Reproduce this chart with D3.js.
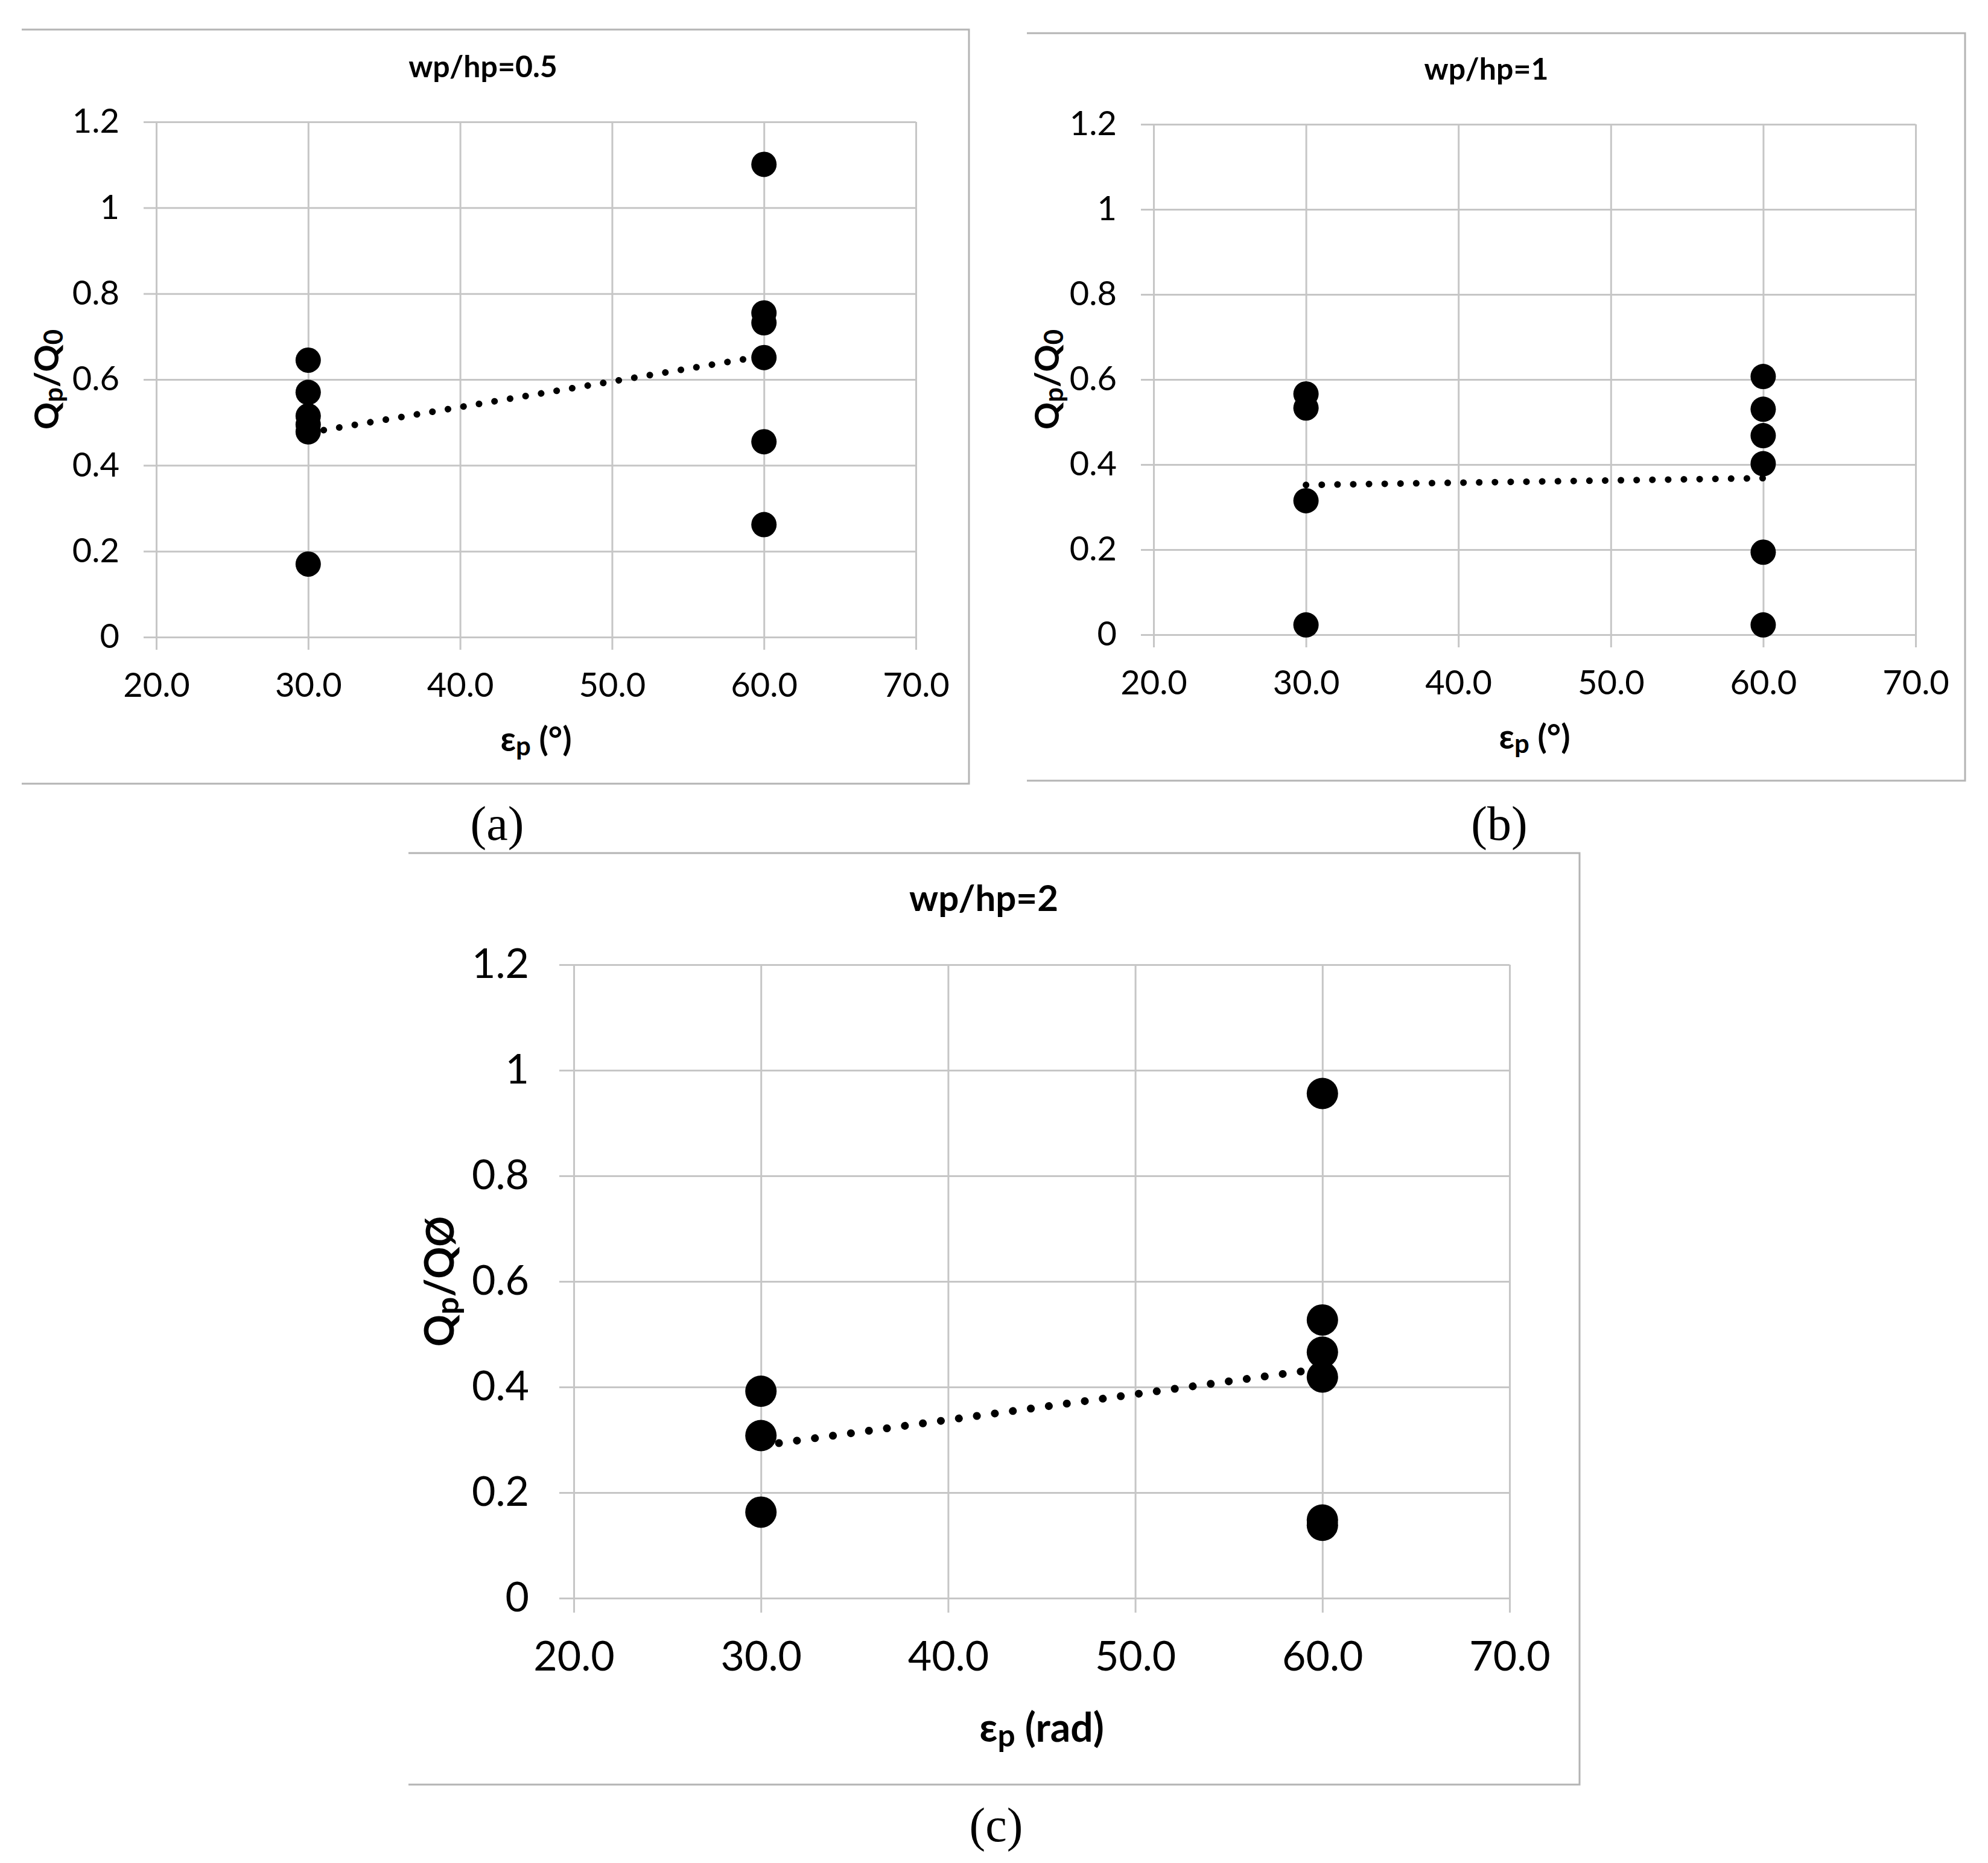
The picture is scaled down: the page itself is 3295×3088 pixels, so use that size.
<!DOCTYPE html>
<html>
<head>
<meta charset="utf-8">
<script src="https://cdn.jsdelivr.net/npm/d3@7"></script>
<style>
  body { margin: 0; background: #fff; }
  svg { display: block; }
</style>
</head>
<body>
<div id="chart"></div>
<script>
// axis ticks shared by all three panels
const xTicks = [20, 30, 40, 50, 60, 70];
const xTickLabels = ["20.0", "30.0", "40.0", "50.0", "60.0", "70.0"];
const yTicks = [0, 0.2, 0.4, 0.6, 0.8, 1, 1.2];
const yTickLabels = ["0", "0.2", "0.4", "0.6", "0.8", "1", "1.2"];

const panelTitles = ["wp/hp=0.5", "wp/hp=1", "wp/hp=2"];
const captions = ["(a)", "(b)", "(c)"];

// (a) wp/hp = 0.5
const aX = [30, 30, 30, 30, 30, 30, 60, 60, 60, 60, 60, 60];
const aY = [0.645, 0.57, 0.515, 0.495, 0.478, 0.17, 1.101, 0.755, 0.732, 0.651, 0.455, 0.262];
// (b) wp/hp = 1
const bX = [30, 30, 30, 30, 60, 60, 60, 60, 60, 60];
const bY = [0.566, 0.533, 0.315, 0.023, 0.607, 0.530, 0.468, 0.402, 0.194, 0.023];
// (c) wp/hp = 2
const cX = [30, 30, 30, 60, 60, 60, 60, 60, 60];
const cY = [0.392, 0.308, 0.163, 0.956, 0.527, 0.466, 0.419, 0.148, 0.138];

// linear trendlines (dotted), read at x = 30 and x = 60
const trendX = [30, 60];
const aTrend = [0.476, 0.655];
const bTrend = [0.352, 0.368];
const cTrend = [0.289, 0.435];

const W = 3295, H = 3088;
const svg = d3.select("#chart").append("svg")
    .attr("width", W).attr("height", H)
    .style("background", "#fff");

const FONT = "Lato, 'Open Sans', sans-serif";
const GRID = "#c6c6c6";
const FRAME = "#b4b4b4";

function drawPanel(p) {
    // frame (top, right, bottom only, like the cropped excel chart)
    const f = p.frame;
    svg.append("path")
        .attr("d", `M${f.l},${f.t}H${f.r}V${f.b}H${f.l}`)
        .attr("fill", "none")
        .attr("stroke", FRAME)
        .attr("stroke-width", 3);

    const x = d3.scaleLinear().domain([20, 70]).range([p.left, p.right]);
    const y = d3.scaleLinear().domain([0, 1.2]).range([p.bottom, p.top]);
    const w = p.right - p.left, h = p.bottom - p.top;

    // gridlines
    svg.append("g")
        .attr("transform", `translate(0,${p.bottom})`)
        .call(d3.axisBottom(x).tickValues(xTicks).tickSize(-h).tickFormat(""))
        .call(g => g.select(".domain").remove())
        .call(g => g.selectAll("line").attr("stroke", GRID).attr("stroke-width", 3));
    svg.append("g")
        .attr("transform", `translate(${p.left},0)`)
        .call(d3.axisLeft(y).tickValues(yTicks).tickSize(-w).tickFormat(""))
        .call(g => g.select(".domain").remove())
        .call(g => g.selectAll("line").attr("stroke", GRID).attr("stroke-width", 3));

    // axes with outside tick marks and labels
    const xa = svg.append("g")
        .attr("transform", `translate(0,${p.bottom})`)
        .call(d3.axisBottom(x).tickValues(xTicks)
            .tickFormat((d, i) => xTickLabels[i])
            .tickSizeInner(p.tick).tickSizeOuter(0).tickPadding(p.xPad));
    const ya = svg.append("g")
        .attr("transform", `translate(${p.left},0)`)
        .call(d3.axisLeft(y).tickValues(yTicks)
            .tickFormat((d, i) => yTickLabels[i])
            .tickSizeInner(p.tick).tickSizeOuter(0).tickPadding(p.yPad));
    [xa, ya].forEach(g => {
        g.select(".domain").attr("stroke", GRID).attr("stroke-width", 3);
        g.selectAll("line").attr("stroke", GRID).attr("stroke-width", 3);
        g.selectAll("text")
            .attr("font-family", FONT)
            .attr("font-size", p.tickFs)
            .attr("fill", "#000");
    });

    // trendline
    const line = d3.line().x(d => x(d[0])).y(d => y(d[1]));
    svg.append("path")
        .datum(trendX.map((v, i) => [v, p.trend[i]]))
        .attr("d", line)
        .attr("fill", "none")
        .attr("stroke", "#000")
        .attr("stroke-width", p.dot)
        .attr("stroke-linecap", "round")
        .attr("stroke-dasharray", `0.1 ${p.dotGap}`);

    // markers
    svg.append("g").selectAll("circle")
        .data(p.xs.map((v, i) => [v, p.ys[i]]))
        .join("circle")
        .attr("cx", d => x(d[0]))
        .attr("cy", d => y(d[1]))
        .attr("r", p.r)
        .attr("fill", "#000");

    // chart title
    svg.append("text")
        .attr("x", (p.left + p.right) / 2 + p.titleDx)
        .attr("y", p.titleY)
        .attr("text-anchor", "middle")
        .attr("font-family", FONT)
        .attr("font-weight", "bold")
        .attr("font-size", p.titleFs)
        .text(p.title);

    // x axis title: εp (unit)
    const xt = svg.append("text")
        .attr("x", (p.left + p.right) / 2)
        .attr("y", p.xTitleY)
        .attr("text-anchor", "middle")
        .attr("font-family", FONT)
        .attr("font-weight", "bold")
        .attr("font-size", p.labFs);
    xt.append("tspan").text("ε");
    xt.append("tspan").attr("font-size", p.labFs * 0.78).attr("dy", p.labFs * 0.12).text("p");
    xt.append("tspan").attr("dy", -p.labFs * 0.12).text(" " + p.unit);

    // y axis title: Qp/Q0
    const yt = svg.append("text")
        .attr("transform", `translate(${p.yTitleX},${(p.top + p.bottom) / 2}) rotate(-90)`)
        .attr("text-anchor", "middle")
        .attr("font-family", FONT)
        .attr("font-weight", "bold")
        .attr("font-size", p.labFs);
    yt.append("tspan").text("Q");
    yt.append("tspan").attr("font-size", p.labFs * 0.78).attr("dy", p.labFs * 0.12).text("p");
    yt.append("tspan").attr("dy", -p.labFs * 0.12).text("/Q");
    if (p.sub0) {
        yt.append("tspan").attr("font-size", p.labFs * 0.78).attr("dy", p.labFs * 0.12).text(p.sub0);
    } else {
        yt.append("tspan").attr("font-size", p.labFs * 0.95).text("Ø");
    }

    // caption below the chart
    svg.append("text")
        .attr("x", p.capX)
        .attr("y", p.capY)
        .attr("text-anchor", "middle")
        .attr("font-family", "'Liberation Serif', 'DejaVu Serif', serif")
        .attr("font-size", 80)
        .text(p.caption);
}

drawPanel({
    frame: { l: 36, t: 49, r: 1606, b: 1299 },
    left: 259, right: 1518, top: 202, bottom: 1056,
    xs: aX, ys: aY, trend: aTrend, r: 21, dot: 11, dotGap: 26,
    tick: 21, xPad: 38, yPad: 40, tickFs: 56,
    title: panelTitles[0], titleDx: -88, titleY: 128, titleFs: 50,
    labFs: 56, unit: "(°)", xTitleY: 1245, yTitleX: 97, sub0: "0",
    caption: captions[0], capX: 824, capY: 1392
});
drawPanel({
    frame: { l: 1702, t: 55, r: 3257, b: 1294 },
    left: 1912, right: 3175, top: 206, bottom: 1052,
    xs: bX, ys: bY, trend: bTrend, r: 21, dot: 11, dotGap: 26,
    tick: 21, xPad: 38, yPad: 40, tickFs: 56,
    title: panelTitles[1], titleDx: -80, titleY: 132, titleFs: 50,
    labFs: 56, unit: "(°)", xTitleY: 1241, yTitleX: 1755, sub0: "0",
    caption: captions[1], capX: 2485, capY: 1392
});
drawPanel({
    frame: { l: 677, t: 1414, r: 2618, b: 2958 },
    left: 951, right: 2502, top: 1599, bottom: 2649,
    xs: cX, ys: cY, trend: cTrend, r: 26, dot: 13, dotGap: 30,
    tick: 24, xPad: 48, yPad: 50, tickFs: 68,
    title: panelTitles[2], titleDx: -96, titleY: 1510, titleFs: 60,
    labFs: 66, unit: "(rad)", xTitleY: 2887, yTitleX: 752, sub0: null,
    caption: captions[2], capX: 1651, capY: 3052
});
</script>
</body>
</html>
